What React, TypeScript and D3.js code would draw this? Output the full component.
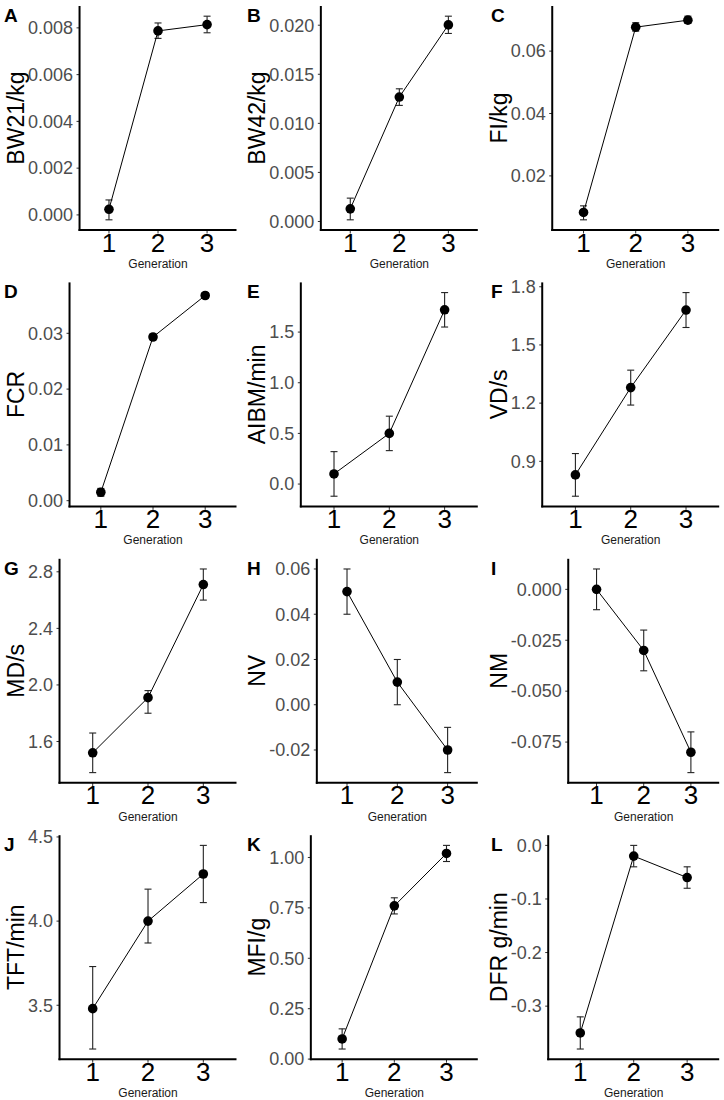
import React, { useMemo } from "react";
import * as d3 from "d3";

// ---------- DATA ----------
const generations = ["1", "2", "3"];
const panelLetters = ["A", "B", "C", "D", "E", "F", "G", "H", "I", "J", "K", "L"];
const yTitles = ["BW21/kg", "BW42/kg", "FI/kg", "FCR", "AIBM/min", "VD/s", "MD/s", "NV", "NM", "TFT/min", "MFI/g", "DFR g/min"];

const bw21Mean = [0.00024, 0.00787, 0.00814];
const bw21Low = [-0.00021, 0.00755, 0.00779];
const bw21High = [0.00064, 0.00821, 0.0085];
const bw21Ticks = [0, 0.002, 0.004, 0.006, 0.008];

const bw42Mean = [0.00129, 0.01268, 0.02003];
const bw42Low = [0.00017, 0.01183, 0.01916];
const bw42High = [0.00238, 0.01352, 0.02092];
const bw42Ticks = [0, 0.005, 0.01, 0.015, 0.02];

const fiMean = [0.00829, 0.06768, 0.06992];
const fiLow = [0.00592, 0.0664, 0.0689];
const fiHigh = [0.0104, 0.0691, 0.0712];
const fiTicks = [0.02, 0.04, 0.06];

const fcrMean = [0.00151, 0.02934, 0.03678];
const fcrLow = [0.0008, 0.0289, 0.0363];
const fcrHigh = [0.0022, 0.0298, 0.0373];
const fcrTicks = [0, 0.01, 0.02, 0.03];

const aibmMean = [0.1, 0.5, 1.72];
const aibmLow = [-0.12, 0.33, 1.55];
const aibmHigh = [0.32, 0.67, 1.89];
const aibmTicks = [0, 0.5, 1.0, 1.5];

const vdMean = [0.83, 1.28, 1.68];
const vdLow = [0.72, 1.19, 1.59];
const vdHigh = [0.94, 1.37, 1.77];
const vdTicks = [0.9, 1.2, 1.5, 1.8];

const mdMean = [1.52, 1.91, 2.71];
const mdLow = [1.38, 1.8, 2.6];
const mdHigh = [1.66, 1.96, 2.82];
const mdTicks = [1.6, 2.0, 2.4, 2.8];

const nvMean = [0.05, 0.01, -0.02];
const nvLow = [0.04, 0.0, -0.03];
const nvHigh = [0.06, 0.02, -0.01];
const nvTicks = [-0.02, 0, 0.02, 0.04, 0.06];

const nmMean = [0.0, -0.03, -0.08];
const nmLow = [-0.01, -0.04, -0.09];
const nmHigh = [0.01, -0.02, -0.07];
const nmTicks = [-0.075, -0.05, -0.025, 0];

const tftMean = [3.48, 4.0, 4.28];
const tftLow = [3.24, 3.87, 4.11];
const tftHigh = [3.73, 4.19, 4.45];
const tftTicks = [3.5, 4.0, 4.5];

const mfiMean = [0.1, 0.76, 1.02];
const mfiLow = [0.05, 0.72, 0.98];
const mfiHigh = [0.15, 0.8, 1.06];
const mfiTicks = [0, 0.25, 0.5, 0.75, 1.0];

const dfrMean = [-0.35, -0.02, -0.06];
const dfrLow = [-0.38, -0.04, -0.08];
const dfrHigh = [-0.32, 0.0, -0.04];
const dfrTicks = [-0.3, -0.2, -0.1, 0];

const tickDecimals = [3, 3, 2, 2, 1, 1, 1, 2, 3, 1, 2, 1];

const panels = [
  { mean: bw21Mean, low: bw21Low, high: bw21High, ticks: bw21Ticks },
  { mean: bw42Mean, low: bw42Low, high: bw42High, ticks: bw42Ticks },
  { mean: fiMean, low: fiLow, high: fiHigh, ticks: fiTicks },
  { mean: fcrMean, low: fcrLow, high: fcrHigh, ticks: fcrTicks },
  { mean: aibmMean, low: aibmLow, high: aibmHigh, ticks: aibmTicks },
  { mean: vdMean, low: vdLow, high: vdHigh, ticks: vdTicks },
  { mean: mdMean, low: mdLow, high: mdHigh, ticks: mdTicks },
  { mean: nvMean, low: nvLow, high: nvHigh, ticks: nvTicks },
  { mean: nmMean, low: nmLow, high: nmHigh, ticks: nmTicks },
  { mean: tftMean, low: tftLow, high: tftHigh, ticks: tftTicks },
  { mean: mfiMean, low: mfiLow, high: mfiHigh, ticks: mfiTicks },
  { mean: dfrMean, low: dfrLow, high: dfrHigh, ticks: dfrTicks },
];

// ---------- LAYOUT ----------
const W = 724;
const H = 1100;
const FONT = "'Liberation Sans', Arial, Helvetica, sans-serif";
const COL_LEFT = [0, 241.3, 482.7];
const LETTER_X = [4, 247, 491];
const ROW_STEP = 276.4;
const PLOT_TOP0 = 6;
const PLOT_H = 224;
const PLOT_RIGHT_OFF = 236.5;
const LEFT_PAD = 34.5;
const YTICK_SIZE = 18;
const XTICK_SIZE = 26;
const YTITLE_SIZE = 23;

function measure(text: string, size: number): number {
  try {
    const c = document.createElement("canvas");
    const ctx = c.getContext("2d");
    if (ctx) {
      ctx.font = `${size}px ${FONT}`;
      return ctx.measureText(text).width;
    }
  } catch (e) {}
  return text.length * size * 0.55;
}

function Panel({ idx }: { idx: number }) {
  const p = panels[idx];
  const col = idx % 3;
  const row = Math.floor(idx / 3);
  const dec = tickDecimals[idx];
  const labels = p.ticks.map((t) => t.toFixed(dec));
  const maxW = d3.max(labels, (l) => measure(l, YTICK_SIZE)) || 0;
  const colLeft = COL_LEFT[col];
  const left = colLeft + LEFT_PAD + maxW;
  const right = colLeft + PLOT_RIGHT_OFF;
  const top = PLOT_TOP0 + row * ROW_STEP;
  const bottom = top + PLOT_H;

  const x = d3.scalePoint<string>().domain(generations).range([left, right]).padding(0.6);
  const lo = d3.min(p.low) as number;
  const hi = d3.max(p.high) as number;
  const pad = (hi - lo) * 0.05;
  const y = d3.scaleLinear().domain([lo - pad, hi + pad]).range([bottom, top]);

  const line = d3
    .line<number>()
    .x((_, i) => x(generations[i]) as number)
    .y((d) => y(d));

  const cx = (left + right) / 2;
  const cy = (top + bottom) / 2;

  return (
    <g>
      <text x={LETTER_X[col]} y={top + 15.7} fontFamily={FONT} fontWeight="bold" fontSize={19} fill="#000">
        {panelLetters[idx]}
      </text>
      <text
        transform={`translate(${colLeft + 24},${cy}) rotate(-90)`}
        textAnchor="middle"
        fontFamily={FONT}
        fontSize={YTITLE_SIZE}
        fill="#000"
      >
        {yTitles[idx]}
      </text>
      {/* y ticks */}
      {p.ticks.map((t, i) => (
        <g key={"yt" + i}>
          <line x1={left - 3} x2={left} y1={y(t)} y2={y(t)} stroke="#333" strokeWidth={1} />
          <text
            x={left - 6.5}
            y={y(t)}
            dy="0.35em"
            textAnchor="end"
            fontFamily={FONT}
            fontSize={YTICK_SIZE}
            fill="#4d4d4d"
          >
            {labels[i]}
          </text>
        </g>
      ))}
      {/* x ticks */}
      {generations.map((g) => (
        <g key={"xt" + g}>
          <line x1={x(g)} x2={x(g)} y1={bottom} y2={bottom + 3.5} stroke="#333" strokeWidth={1} />
          <text
            x={x(g)}
            y={bottom + 21.5}
            textAnchor="middle"
            fontFamily={FONT}
            fontSize={XTICK_SIZE}
            fill="#000"
          >
            {g}
          </text>
        </g>
      ))}
      <text x={cx} y={bottom + 38} textAnchor="middle" fontFamily={FONT} fontSize={12} fill="#1a1a1a">
        Generation
      </text>
      {/* axes */}
      <line x1={left} x2={left} y1={top} y2={bottom + 1} stroke="#000" strokeWidth={2} />
      <line x1={left - 1} x2={right} y1={bottom} y2={bottom} stroke="#000" strokeWidth={2} />
      {/* error bars */}
      {generations.map((g, i) => {
        const gx = x(g) as number;
        return (
          <g key={"eb" + g} stroke="#222" strokeWidth={1.1}>
            <line x1={gx} x2={gx} y1={y(p.low[i])} y2={y(p.high[i])} />
            <line x1={gx - 3.5} x2={gx + 3.5} y1={y(p.low[i])} y2={y(p.low[i])} />
            <line x1={gx - 3.5} x2={gx + 3.5} y1={y(p.high[i])} y2={y(p.high[i])} />
          </g>
        );
      })}
      <path d={line(p.mean) || ""} fill="none" stroke="#000" strokeWidth={1} />
      {generations.map((g, i) => (
        <circle key={"pt" + g} cx={x(g)} cy={y(p.mean[i])} r={4.8} fill="#000" />
      ))}
    </g>
  );
}

export default function App() {
  const idxs = useMemo(() => panels.map((_, i) => i), []);
  return (
    <svg
      width={W}
      height={H}
      viewBox={`0 0 ${W} ${H}`}
      style={{ position: "absolute", left: 0, top: 0, display: "block", background: "#fff" }}
    >
      <rect x={0} y={0} width={W} height={H} fill="#fff" />
      {idxs.map((i) => (
        <Panel key={i} idx={i} />
      ))}
    </svg>
  );
}
